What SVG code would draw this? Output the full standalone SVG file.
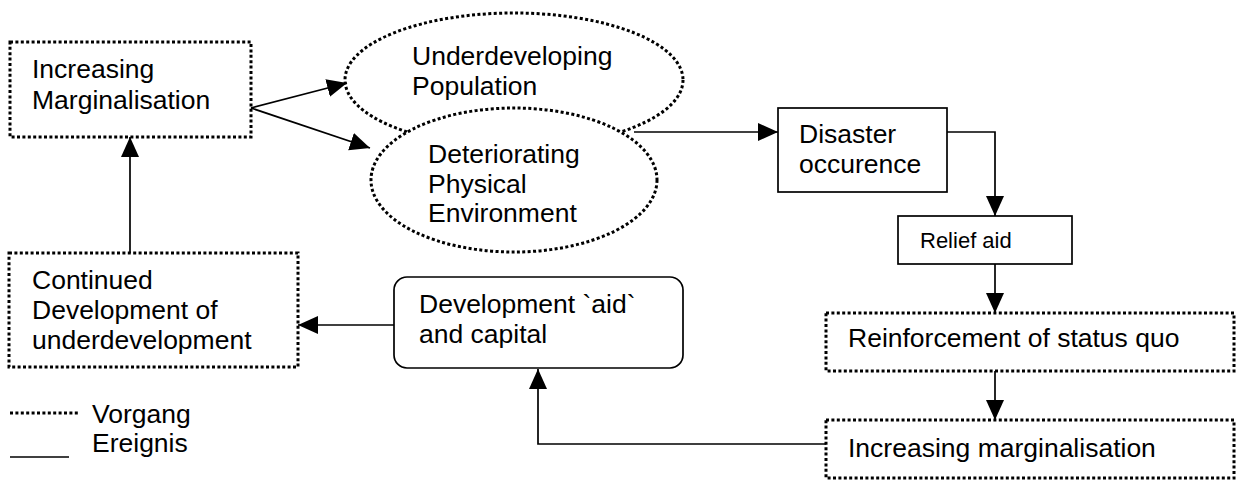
<svg xmlns="http://www.w3.org/2000/svg" width="1236" height="480" viewBox="0 0 1236 480">
<style>
.dot{fill:none;stroke:#000;stroke-width:3;stroke-dasharray:3 2.4}
.solid{fill:none;stroke:#000;stroke-width:1.7}
text{font-family:"Liberation Sans",Arial,sans-serif;font-size:26.5px;fill:#000}
.conn{fill:none;stroke:#000;stroke-width:1.7}
</style>
<defs>
<marker id="ah" markerUnits="userSpaceOnUse" markerWidth="22" markerHeight="20" refX="20" refY="9" orient="auto">
<path d="M0,0 L20,9 L0,18 Z" fill="#000"/>
</marker>
</defs>
<g id="n-increasing-marg">
<rect class="dot" x="10" y="42" width="241" height="95"/>
<text x="32" y="78">Increasing</text>
<text x="32" y="109">Marginalisation</text>
</g>
<g id="n-underdeveloping">
<ellipse class="dot" cx="514" cy="80" rx="169" ry="67" style="fill:#fff"/>
<text x="412" y="65">Underdeveloping</text>
<text x="412" y="95">Population</text>
</g>
<g id="n-deteriorating">
<ellipse class="dot" cx="514" cy="180" rx="143" ry="72" style="fill:#fff"/>
<text x="428" y="163">Deteriorating</text>
<text x="428" y="193">Physical</text>
<text x="428" y="222">Environment</text>
</g>
<g id="n-disaster">
<rect class="solid" x="778" y="108" width="169" height="84"/>
<text x="799" y="143">Disaster</text>
<text x="799" y="173">occurence</text>
</g>
<g id="n-relief">
<rect class="solid" x="898" y="216" width="174" height="48"/>
<text x="920" y="248" style="font-size:22px">Relief aid</text>
</g>
<g id="n-reinforcement">
<rect class="dot" x="826" y="313" width="408" height="58"/>
<text x="848" y="347">Reinforcement of status quo</text>
</g>
<g id="n-increasing-marg2">
<rect class="dot" x="826" y="420" width="408" height="58"/>
<text x="848" y="457">Increasing marginalisation</text>
</g>
<g id="n-devaid">
<rect class="solid" x="394" y="277" width="289" height="91" rx="13" ry="13"/>
<text x="419" y="313">Development `aid`</text>
<text x="419" y="343">and capital</text>
</g>
<g id="n-continued">
<rect class="dot" x="9" y="253" width="289" height="114"/>
<text x="32" y="289">Continued</text>
<text x="32" y="319">Development of</text>
<text x="32" y="349">underdevelopment</text>
</g>
<g id="connectors">
<line class="conn" x1="251" y1="108" x2="347" y2="83" marker-end="url(#ah)"/>
<line class="conn" x1="251" y1="108" x2="370" y2="148" marker-end="url(#ah)"/>
<line class="conn" x1="634" y1="132" x2="778" y2="132" marker-end="url(#ah)"/>
<polyline class="conn" points="947,132 995,132 995,216" marker-end="url(#ah)"/>
<line class="conn" x1="995" y1="264" x2="995" y2="313" marker-end="url(#ah)"/>
<line class="conn" x1="995" y1="371" x2="995" y2="420" marker-end="url(#ah)"/>
<polyline class="conn" points="826,444 538,444 538,369" marker-end="url(#ah)"/>
<line class="conn" x1="394" y1="325" x2="298" y2="325" marker-end="url(#ah)"/>
<line class="conn" x1="130" y1="253" x2="130" y2="137" marker-end="url(#ah)"/>
</g>
<g id="legend">
<line class="dot" x1="10" y1="413" x2="80" y2="413"/>
<text x="92" y="423">Vorgang</text>
<line class="solid" x1="10" y1="457" x2="69" y2="457"/>
<text x="92" y="452">Ereignis</text>
</g>
</svg>
